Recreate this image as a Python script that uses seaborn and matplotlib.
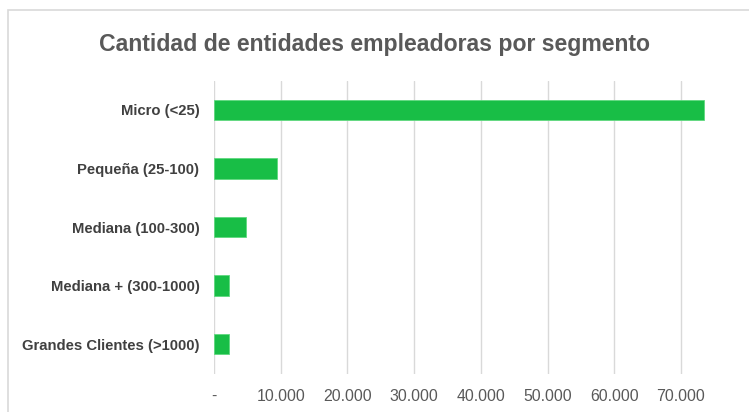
import matplotlib
matplotlib.use("Agg")
import matplotlib.pyplot as plt
import matplotlib.patches as mpatches
import matplotlib.ticker as mticker
import seaborn as sns
import pandas as pd

# data
segments = [
    "Micro (<25)",
    "Pequeña (25-100)",
    "Mediana (100-300)",
    "Mediana + (300-1000)",
    "Grandes Clientes (>1000)",
]
entities = [73450, 9500, 4850, 2300, 2300]

x_ticks = [0, 10000, 20000, 30000, 40000, 50000, 60000, 70000]

title = "Cantidad de entidades empleadoras por segmento"
bar_color = "#18BE46"
grid_color = "#D9D9D9"


def fmt_thousands(v, _pos):
    if v == 0:
        return "-"
    return f"{v:,.0f}".replace(",", ".")


def main() -> None:
    sns.set_style("white")
    plt.rcParams["font.family"] = ["Liberation Sans", "DejaVu Sans"]

    data = pd.DataFrame({"Segmento": segments, "Entidades": entities})

    fig = plt.figure(figsize=(7.49, 4.12), dpi=100)
    ax = fig.add_axes([214 / 749, 38.5 / 412, 533.6 / 749, 293 / 412])

    sns.barplot(
        data=data,
        x="Entidades",
        y="Segmento",
        orient="h",
        color=bar_color,
        width=0.35,
        saturation=1,
        edgecolor="#5FD97F",
        linewidth=0.6,
        ax=ax,
    )

    ax.set_xlim(0, 80000)
    ax.set_ylim(4.5, -0.5)
    ax.set_xticks(x_ticks)
    ax.xaxis.set_major_formatter(mticker.FuncFormatter(fmt_thousands))
    ax.grid(axis="x", color=grid_color, linewidth=1)
    ax.set_axisbelow(True)
    for side in ["top", "right", "bottom", "left"]:
        ax.spines[side].set_visible(False)

    ax.tick_params(axis="x", length=0, pad=11, labelsize=11.4, labelcolor="#595959")
    ax.tick_params(axis="y", length=0, pad=10.5, labelcolor="#404040")
    for lbl in ax.get_yticklabels():
        lbl.set_fontweight("bold")
        lbl.set_fontsize(10.75)
    ax.set_xlabel("")
    ax.set_ylabel("")

    fig.text(0.5, 1 - 45 / 412, title, ha="center", va="center",
             fontsize=16.6, color="#595959", fontweight="bold")

    # chart border (cropped on the right and bottom)
    fig.patches.append(mpatches.Rectangle(
        (8 / 749, -0.1), 1.2, 1 - 10 / 412 + 0.1,
        transform=fig.transFigure, fill=False, edgecolor="#D9D9D9", lw=1.2))

    fig.savefig("out.png", dpi=100)
    plt.close(fig)


if __name__ == "__main__":
    main()
